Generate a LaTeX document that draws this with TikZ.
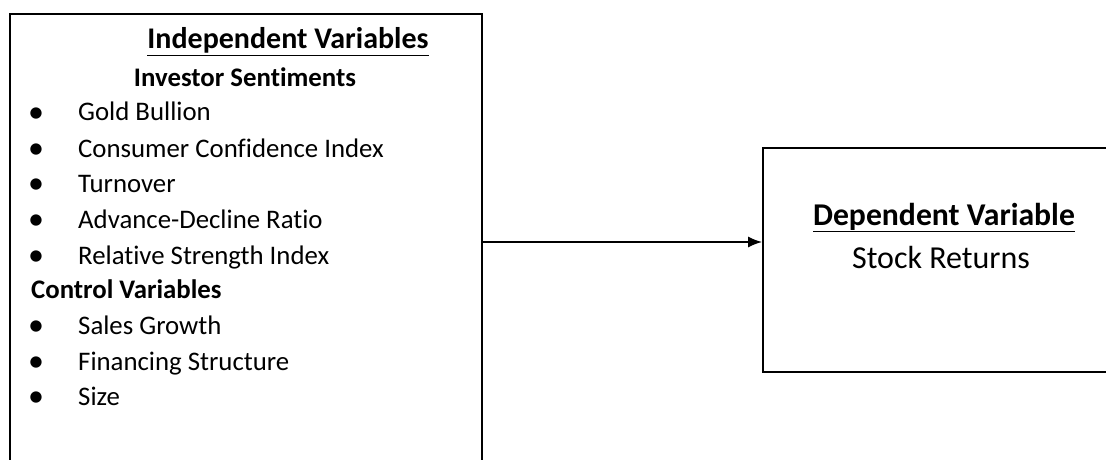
\documentclass[tikz,border=0pt]{standalone}
\usepackage{fontspec}
\setmainfont{Carlito}[Ligatures = CommonOff]
\usepackage{tikz}
\usetikzlibrary{arrows.meta}

\begin{document}
\begin{tikzpicture}
          [x = 1pt, y = -1pt, >= {Latex[length = 14pt, width = 11pt]}, font = \fontsize{26.8}{30}\selectfont,
           box/.style = {draw, line width = 2pt, anchor = north west, inner sep = 0pt},
           item/.style = {anchor = base west, inner sep = 0pt}]
          \useasboundingbox (0,0) rectangle (1106,460);
          \clip (0,0) rectangle (1106,460);
          \node[box, minimum width = 472pt, minimum height = 480pt] (indep) at (9,13) {};
          \node[box, minimum width = 380pt, minimum height = 224pt] (dep) at (762,147) {};
          \coordinate (mid) at (0,242);
          \draw[->, line width = 1.3pt] (indep.east |- mid) -- (dep.west |- mid);
          % left box texts
          \node[anchor = base, inner sep = 0pt, font = \fontsize{30}{34}\selectfont\bfseries] (indephead) at (288,49) {\underline{Independent Variables}};
          \node[anchor = base, inner sep = 0pt, font = \fontsize{26.8}{30}\selectfont\bfseries] (sent) at (245,86) {Investor Sentiments};
          \node[item, font = \fontsize{26.8}{30}\selectfont\bfseries] (ctrl) at (31,298) {Control Variables};
          \foreach \y/\t [count = \i] in {121/Gold Bullion, 157/Consumer Confidence Index,
              192/Turnover, 228/Advance-Decline Ratio, 264/Relative Strength Index,
              334/Sales Growth, 370/Financing Structure, 405/Size}
            {
              \node[anchor = base, inner sep = 0pt, font = \fontsize{32}{36}\selectfont] (b\i) at (36,\y+1) {\textbullet};
              \node[item] (v\i) at (78,\y) {\t};
            }
          % right box texts
          \node[anchor = base, inner sep = 0pt, font = \fontsize{31.7}{36}\selectfont\bfseries] (dephead) at (944,225) {\underline{Dependent Variable}};
          \node[anchor = base, inner sep = 0pt, font = \fontsize{32}{36}\selectfont] (ret) at (941,268) {Stock Returns};
        \end{tikzpicture}
\end{document}
